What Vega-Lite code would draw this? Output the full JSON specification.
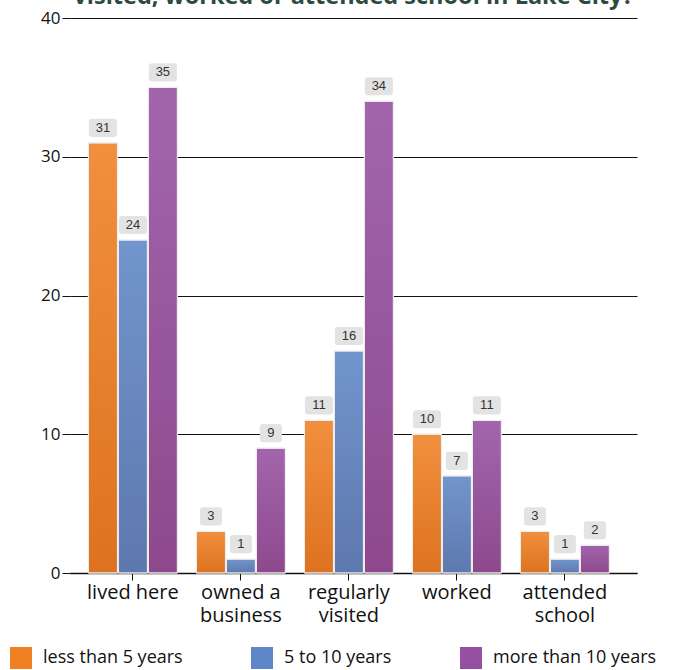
{
  "$schema": "https://vega.github.io/schema/vega-lite/v6.json",
  "autosize": {"type": "none"},
  "width": 567,
  "height": 555,
  "padding": {"left": 70, "top": 18, "right": 36, "bottom": 97},
  "background": "white",
  "view": {"stroke": null},
  "title": {
    "text": "visited, worked or attended school in Lake City?",
    "color": "#2d4a3e",
    "font": "Open Sans",
    "fontSize": 23.5,
    "fontWeight": "bold",
    "anchor": "middle",
    "frame": "group",
    "baseline": "alphabetic",
    "offset": -18
  },
  "data": {
    "values": [
      {"cat": "lived here", "series": "less than 5 years", "value": 31},
      {"cat": "lived here", "series": "5 to 10 years", "value": 24},
      {"cat": "lived here", "series": "more than 10 years", "value": 35},
      {"cat": "owned a|business", "series": "less than 5 years", "value": 3},
      {"cat": "owned a|business", "series": "5 to 10 years", "value": 1},
      {"cat": "owned a|business", "series": "more than 10 years", "value": 9},
      {"cat": "regularly|visited", "series": "less than 5 years", "value": 11},
      {"cat": "regularly|visited", "series": "5 to 10 years", "value": 16},
      {"cat": "regularly|visited", "series": "more than 10 years", "value": 34},
      {"cat": "worked", "series": "less than 5 years", "value": 10},
      {"cat": "worked", "series": "5 to 10 years", "value": 7},
      {"cat": "worked", "series": "more than 10 years", "value": 11},
      {"cat": "attended|school", "series": "less than 5 years", "value": 3},
      {"cat": "attended|school", "series": "5 to 10 years", "value": 1},
      {"cat": "attended|school", "series": "more than 10 years", "value": 2}
    ]
  },
  "encoding": {
    "x": {
      "field": "cat",
      "type": "nominal",
      "sort": null,
      "scale": {"paddingInner": 0.176, "paddingOuter": 0.213, "align": 0.4},
      "axis": {
        "title": null,
        "labelAngle": 0,
        "labelExpr": "split(datum.label, '|')",
        "labelFont": "Open Sans",
        "labelFontSize": 20,
        "labelColor": "#111111",
        "labelLineHeight": 23,
        "labelPadding": 2,
        "tickSize": 7,
        "tickColor": "#111111",
        "domainColor": "#111111",
        "domainWidth": 1.5,
        "grid": false
      }
    },
    "xOffset": {
      "field": "series",
      "type": "nominal",
      "sort": ["less than 5 years", "5 to 10 years", "more than 10 years"],
      "scale": {"paddingInner": 0.03, "paddingOuter": 0}
    },
    "y": {
      "field": "value",
      "type": "quantitative",
      "scale": {"domain": [0, 40], "nice": false},
      "axis": {
        "title": null,
        "values": [0, 10, 20, 30, 40],
        "labelFont": "Open Sans",
        "labelFontSize": 17,
        "labelColor": "#111111",
        "labelPadding": 2,
        "tickSize": 8,
        "tickColor": "#111111",
        "domain": false,
        "grid": true,
        "gridColor": "#111111",
        "gridWidth": 1
      }
    }
  },
  "layer": [
    {
      "mark": {"type": "bar", "stroke": "#eeeeee", "strokeWidth": 1},
      "encoding": {
        "color": {
          "field": "series",
          "type": "nominal",
          "sort": ["less than 5 years", "5 to 10 years", "more than 10 years"],
          "scale": {
            "domain": ["less than 5 years", "5 to 10 years", "more than 10 years"],
            "range": ["#ef8024", "#5e86c6", "#9550a1"]
          },
          "legend": {
            "title": null,
            "orient": "none",
            "legendX": -60,
            "legendY": 629,
            "direction": "horizontal",
            "columns": 3,
            "columnPadding": 68,
            "symbolType": "square",
            "symbolSize": 484,
            "symbolStrokeWidth": 0,
            "symbolOpacity": 1,
            "labelFont": "Open Sans",
            "labelFontSize": 18,
            "labelLimit": 400,
            "labelColor": "#111111",
            "labelOffset": 11,
            "padding": 0
          }
        }
      }
    },
    {
      "mark": {
        "type": "bar",
        "stroke": "#eeeeee",
        "strokeWidth": 1,
        "color": {
          "gradient": "linear",
          "x1": 0, "y1": 0, "x2": 0, "y2": 1,
          "stops": [
            {"offset": 0, "color": "rgba(255,255,255,0.12)"},
            {"offset": 1, "color": "rgba(90,20,0,0.12)"}
          ]
        }
      }
    },
    {
      "mark": {"type": "point", "filled": true, "color": "#e3e3e3", "opacity": 1, "size": 784, "yOffset": -15, "strokeWidth": 0},
      "encoding": {
        "shape": {
          "condition": {"test": "datum.value >= 10", "value": "M -0.786,-0.643 H 0.786 Q 1,-0.643 1,-0.429 V 0.429 Q 1,0.643 0.786,0.643 H -0.786 Q -1,0.643 -1,0.429 V -0.429 Q -1,-0.643 -0.786,-0.643 Z"},
          "value": "M -0.572,-0.643 H 0.572 Q 0.786,-0.643 0.786,-0.429 V 0.429 Q 0.786,0.643 0.572,0.643 H -0.572 Q -0.786,0.643 -0.786,0.429 V -0.429 Q -0.786,-0.643 -0.572,-0.643 Z"
        }
      }
    },
    {
      "mark": {"type": "text", "dy": -15, "baseline": "middle", "align": "center", "font": "Liberation Sans", "fontSize": 13, "color": "#333333"},
      "encoding": {"text": {"field": "value", "type": "quantitative"}}
    }
  ]
}
